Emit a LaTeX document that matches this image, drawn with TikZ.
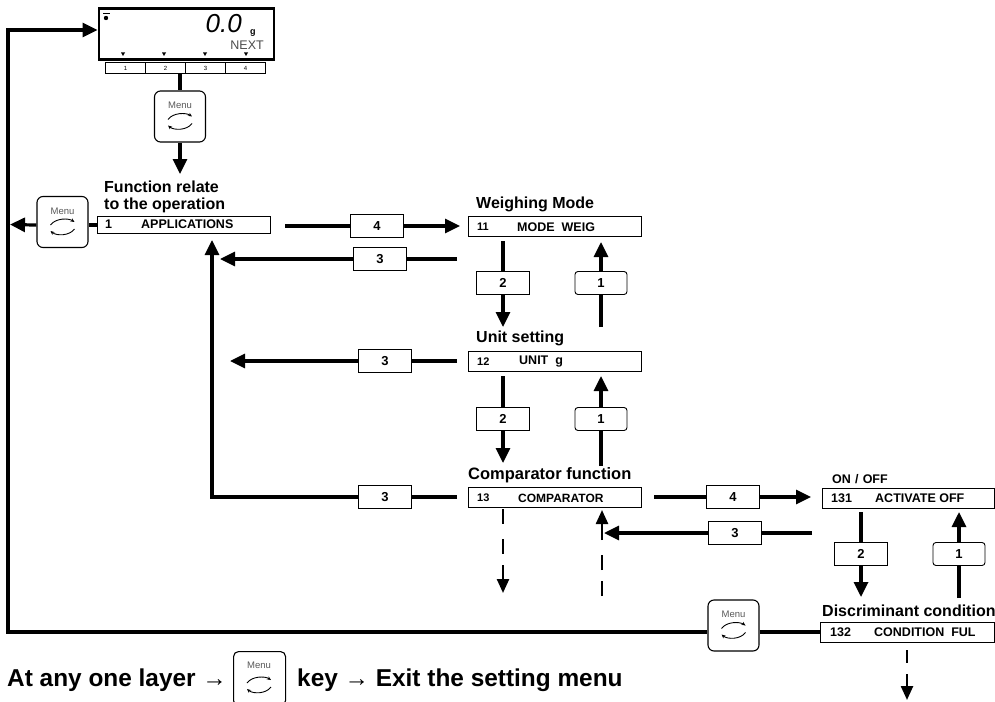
\documentclass[tikz,border=0pt]{standalone}
\usepackage{fontspec}
\setmainfont{Liberation Sans}
\usetikzlibrary{arrows.meta}
\newcommand{\fsz}[1]{\fontsize{#1}{#1}\selectfont}
\tikzset{
 x=1pt,y=-1pt,
 conn/.style={line width=3.2pt,draw=black},
 arr/.style={conn,-{Triangle[length=15pt,width=14pt]}},
 dashline/.style={line width=2.4pt},
 darr/.style={line width=2.4pt,-{Triangle[length=14pt,width=12pt]}},
 func/.style={draw=black,line width=1.1pt,fill=white,minimum height=20pt,minimum width=173pt,inner sep=0pt,anchor=north west},
 digit/.style={draw=black,line width=.9pt,fill=white,minimum width=53pt,minimum height=23pt,inner sep=0pt,font=\fsz{13}\bfseries},
 rdigit/.style={digit,rounded corners=3pt,minimum width=52pt},
 head/.style={anchor=west,inner sep=0pt,font=\fsz{16}\bfseries},
 inbox/.style={anchor=west,inner sep=0pt,font=\fsz{12.5}\bfseries},
 menukey/.style={draw=black,line width=1.1pt,fill=white,rounded corners=6pt,minimum width=51pt,minimum height=51pt,inner sep=0pt},
 softkey/.style={draw=black,line width=.9pt,fill=white,minimum width=40pt,minimum height=11pt,inner sep=0pt,font=\fsz{6}},
}
\newcommand{\menuicon}[1]{%
 \node[font=\fsz{9.5},text=black!65,inner sep=0pt] at ([yshift=11pt]#1.center) {Menu};
 \draw[line width=.9pt,-{Stealth[length=4pt,width=3.5pt]}] ([shift={(-12pt,-3pt)}]#1.center) .. controls ([shift={(-7pt,4pt)}]#1.center) and ([shift={(6pt,4pt)}]#1.center) .. ([shift={(12pt,0pt)}]#1.center);
 \draw[line width=.9pt,-{Stealth[length=4pt,width=3.5pt]}] ([shift={(12pt,-7pt)}]#1.center) .. controls ([shift={(7pt,-14pt)}]#1.center) and ([shift={(-6pt,-14pt)}]#1.center) .. ([shift={(-12pt,-9pt)}]#1.center);
}
\begin{document}
\begin{tikzpicture}
\useasboundingbox (0,0) rectangle (995,701);
% display
\node[draw=black,line width=2.6pt,fill=white,minimum width=175pt,minimum height=51pt,inner sep=0pt,anchor=north west] (disp) at (97.5,7.5) {};
\node[softkey,anchor=north west] (k1) at (105,62) {1};
\node[softkey,anchor=north west] (k2) at (145,62) {2};
\node[softkey,anchor=north west] (k3) at (185,62) {3};
\node[softkey,anchor=north west] (k4) at (225,62) {4};
\foreach \xx in {123,164,205,246}{\fill (\xx-2,52.5) -- (\xx+2,52.5) -- (\xx,56) -- cycle;}
\fill (106,18) circle (2.2pt);
\draw[line width=.7pt] (103,13) -- (110,13);
\node[anchor=base east,inner sep=0pt,font=\fsz{26}\itshape] (val) at (242,33) {0.0};
\node[anchor=base west,inner sep=0pt,font=\fsz{9}\bfseries] (unit) at (250,35) {g};
\node[anchor=base east,inner sep=0pt,font=\fsz{12.5},text=black!70] (nxt) at (264,49) {NEXT};
% menu keys
\node[menukey] (m1) at (180,116.5) {};
\menuicon{m1}
\node[menukey] (m2) at (62.5,222) {};
\menuicon{m2}
\node[menukey] (m3) at (733.5,625.5) {};
\menuicon{m3}
% function boxes
\node[head] (h1a) at (104,187) {Function relate};
\node[head] (h1b) at (104,205) {to the operation};
\node[func,minimum width=173pt,minimum height=17pt] (f1) at (97,216) {};
\node[inbox] at (105,224.5) {1};
\node[inbox] at (141,224.5) {APPLICATIONS};
\node[head] (h11) at (476,204) {Weighing Mode};
\node[func] (f11) at (468,216) {};
\node[inbox,font=\fsz{11}\bfseries] at (477,227) {11};
\node[inbox] at (517,227) {MODE~~WEIG};
\node[head] (h12) at (476,338) {Unit setting};
\node[func] (f12) at (468,350.5) {};
\node[inbox,font=\fsz{11}\bfseries] at (477,362) {12};
\node[inbox] at (519,362) {UNIT~~g};
\node[head,font=\fsz{16.5}\bfseries] (h13) at (468,475) {Comparator function};
\node[func] (f13) at (468,487) {};
\node[inbox,font=\fsz{11}\bfseries] at (477,498) {13};
\node[inbox,font=\fsz{12}\bfseries] at (518,498) {COMPARATOR};
\node[head,font=\fsz{12.5}\bfseries] (h131) at (832,479) {ON\,\,/\,\,OFF};
\node[func,minimum width=172pt] (f131) at (822,488) {};
\node[inbox] at (831,498) {131};
\node[inbox] at (875,498) {ACTIVATE OFF};
\node[head] (h132) at (822,611) {Discriminant condition};
\node[func,minimum width=174pt] (f132) at (820,622) {};
\node[inbox] at (830,632) {132};
\node[inbox] at (874,632) {CONDITION~~FUL};
% digit keys
\node[digit] (a4) at (377,226) {4};
\node[digit] (a3) at (380,259) {3};
\node[digit] (b2) at (503,283) {2};
\node[rdigit] (b1) at (601,283) {1};
\node[digit] (c3) at (385,361) {3};
\node[digit] (d2) at (503,419) {2};
\node[rdigit] (d1) at (601,419) {1};
\node[digit] (e3) at (385,497) {3};
\node[digit] (e4) at (733,497) {4};
\node[digit] (g3) at (735,533) {3};
\node[digit] (h2) at (861,554) {2};
\node[rdigit] (h1) at (959,554) {1};
% free ends
\coordinate (corner1) at (8,30);
\coordinate (corner2) at (8,632);
\coordinate (p1s) at (285,226); \coordinate (p1e) at (460,226);
\coordinate (p2s) at (457,259); \coordinate (p2e) at (220,259);
\coordinate (p3s) at (457,361); \coordinate (p3e) at (230,361);
\coordinate (p4s) at (457,497); \coordinate (p4m) at (212,497); \coordinate (p4e) at (212,240);
\coordinate (p5s) at (654,497); \coordinate (p5e) at (811,497);
\coordinate (p6s) at (812,533); \coordinate (p6e) at (604,533);
\coordinate (ra) at (503,241); \coordinate (rb) at (503,327);
\coordinate (rc) at (601,327); \coordinate (rd) at (601,242);
\coordinate (sa) at (503,376); \coordinate (sb) at (503,463);
\coordinate (sc) at (601,466); \coordinate (sd) at (601,376);
\coordinate (ua) at (861,512); \coordinate (ub) at (861,597);
\coordinate (uc) at (959,598); \coordinate (ud) at (959,512);
\coordinate (va) at (503,509); \coordinate (vb) at (503,593);
\coordinate (wa) at (602,596); \coordinate (wb) at (602,510);
\coordinate (xa) at (907,650); \coordinate (xb) at (907,700);
\coordinate (y0) at (10,224.5);
% connectors
\draw[conn] (k2.south -| m1) -- (m1.north);
\draw[arr] (m1.south) -- (180,174);
\draw[conn] (corner2) -- (corner1);
\draw[arr] ([xshift=-1.6pt]corner1) -- (disp.west |- corner1);
\draw[conn] ([xshift=-1.6pt]corner2) -- (m3.west |- corner2);
\draw[conn] (m3.east |- corner2) -- (f132.west |- corner2);
\draw[conn] (f1.west) -- (m2.east |- f1.west);
\draw[arr] (m2.west |- f1.west) -- (y0);
\draw[conn] (p1s) -- (a4.west);
\draw[arr] (a4.east) -- (p1e);
\draw[conn] (p2s) -- (a3.east);
\draw[arr] (a3.west) -- (p2e);
\draw[conn] (p3s) -- (c3.east);
\draw[arr] (c3.west) -- (p3e);
\draw[conn] (p4s) -- (e3.east);
\draw[conn] (e3.west) -- ([xshift=-1.6pt]p4m);
\draw[arr] ([yshift=1.6pt]p4m) -- (p4e);
\draw[conn] (p5s) -- (e4.west);
\draw[arr] (e4.east) -- (p5e);
\draw[conn] (p6s) -- (g3.east);
\draw[arr] (g3.west) -- (p6e);
\draw[conn] (ra) -- (b2.north); \draw[arr] (b2.south) -- (rb);
\draw[conn] (rc) -- (b1.south); \draw[arr] (b1.north) -- (rd);
\draw[conn] (sa) -- (d2.north); \draw[arr] (d2.south) -- (sb);
\draw[conn] (sc) -- (d1.south); \draw[arr] (d1.north) -- (sd);
\draw[conn] (ua) -- (h2.north); \draw[arr] (h2.south) -- (ub);
\draw[conn] (uc) -- (h1.south); \draw[arr] (h1.north) -- (ud);
% dashed connectors
\draw[dashline] (va) -- (503,524);
\draw[dashline] (503,539) -- (503,554);
\draw[darr] (503,565) -- (vb);
\draw[dashline] (wa) -- (602,581);
\draw[dashline] (602,570) -- (602,555);
\draw[darr] (602,540) -- (wb);
\draw[dashline] (xa) -- (907,663);
\draw[darr] (907,674) -- (xb);
% footer
\node[anchor=base west,inner sep=0pt,font=\fsz{24.4}\bfseries] (ft1) at (7,686) {At any one layer →};
\node[draw=black,line width=1.1pt,fill=white,rounded corners=5pt,minimum width=52pt,minimum height=54pt,inner sep=0pt,anchor=north west] (m4) at (233,651) {};
\node[font=\fsz{9.5},text=black!65,inner sep=0pt] at (259,665) {Menu};
\draw[line width=.9pt,-{Stealth[length=4pt,width=3.5pt]}] (247,683) .. controls (252,676) and (265,676) .. (271,680);
\draw[line width=.9pt,-{Stealth[length=4pt,width=3.5pt]}] (271,687) .. controls (266,694) and (253,694) .. (247,689);
\node[anchor=base west,inner sep=0pt,font=\fsz{24.4}\bfseries] (ft2) at (297,686) {key → Exit the setting menu};
\end{tikzpicture}
\end{document}
